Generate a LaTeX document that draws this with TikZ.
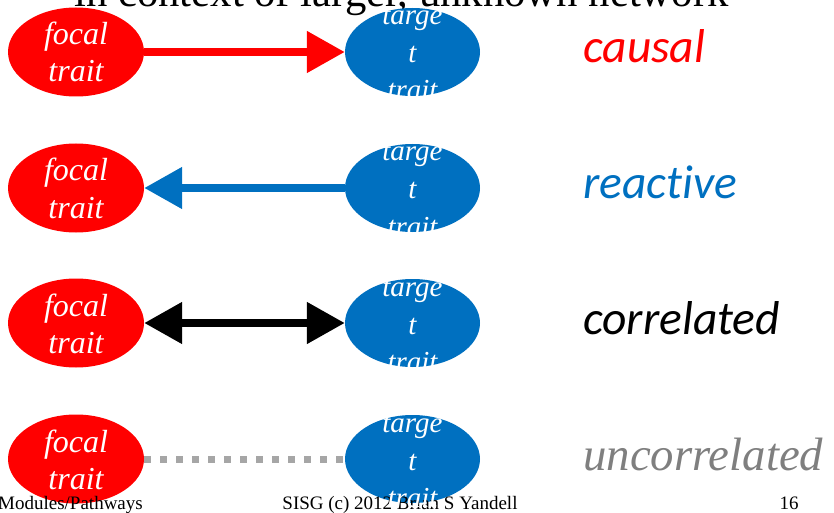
\documentclass[tikz,border=0pt]{standalone}
\usepackage{fontspec}
\setmainfont{Liberation Serif}
\newfontfamily\calibrifont[Ligatures=NoCommon]{Carlito}
\usetikzlibrary{shapes.geometric,arrows.meta}
\definecolor{focalred}{HTML}{FF0000}
\definecolor{targetblue}{HTML}{0070C0}
\definecolor{dotgray}{HTML}{A6A6A6}
\definecolor{labelgray}{HTML}{7F7F7F}
\begin{document}
\begin{tikzpicture}[x=1pt,y=1pt,
  focalnode/.style={ellipse,fill=focalred,draw=none,inner sep=0pt,minimum width=136pt,minimum height=89pt},
  targetnode/.style={ellipse,fill=targetblue,draw=none,inner sep=0pt,minimum width=135pt,minimum height=88pt},
  focaltext/.style={anchor=base,text=white,font=\fontsize{32}{36}\selectfont\itshape,inner sep=0pt},
  targettext/.style={anchor=base,text=white,font=\fontsize{29}{33}\selectfont\itshape,inner sep=0pt},
  kindlabel/.style={anchor=base west,inner sep=0pt,font=\calibrifont\fontsize{47.5}{52}\selectfont\itshape},
  footer/.style={anchor=base,inner sep=0pt,font=\fontsize{19}{22}\selectfont},
  linkline/.style={line width=8pt},
  bigtip/.tip={Triangle[length=38pt,width=40pt]}
]
\useasboundingbox (0,0) rectangle (834,512);

% heading, partly above the page edge
\node[anchor=base,inner sep=0pt,font=\fontsize{42.7}{47}\selectfont] (title) at (401.5,505) {in context of larger, unknown network};

% the four pairs of traits
\foreach \i/\c in {1/460,2/324,3/189,4/53}{
  \node[focalnode] (f\i) at (76,\c) {};
  \node[targetnode] (t\i) at (412.5,\c) {};
}

% connectors
\draw[linkline,focalred,-{bigtip}] (f1.east) -- (t1.west);
\draw[linkline,targetblue,-{bigtip}] (t2.west) -- (f2.east);
\draw[linkline,black,{bigtip}-{bigtip}] (f3.east) -- (t3.west);
\draw[line width=7pt,dotgray,dash pattern=on 7pt off 9pt] (f4.east) -- (t4.west);

% footer line
\node[footer,anchor=base west] (fleft) at (-2,3) {Modules/Pathways};
\node[footer] (fmid) at (400,3) {SISG (c) 2012 Brian S Yandell};
\node[footer] (fright) at (789,3) {16};

% texts inside the ellipses
\foreach \i/\c in {1/460,2/324,3/189,4/53}{
  \node[focaltext] (fa\i) at ([yshift=7pt]f\i.center) {focal};
  \node[focaltext] (fb\i) at ([yshift=-30pt]f\i.center) {trait};
  \node[targettext] (ta\i) at ([yshift=27pt]t\i.center) {targe};
  \node[targettext] (tb\i) at ([yshift=-11pt]t\i.center) {t};
  \node[targettext] (tc\i) at ([yshift=-48pt]t\i.center) {trait};
}

% relation labels
\node[kindlabel,text=focalred] (lcausal) at (583,449) {causal};
\node[kindlabel,text=targetblue] (lreactive) at (583,313) {reactive};
\node[kindlabel,text=black] (lcorrelated) at (583,178) {correlated};
\node[anchor=base west,inner sep=0pt,text=labelgray,font=\fontsize{46.8}{51}\selectfont\itshape] (lunc) at (583,42) {uncorrelated};
\end{tikzpicture}
\end{document}
